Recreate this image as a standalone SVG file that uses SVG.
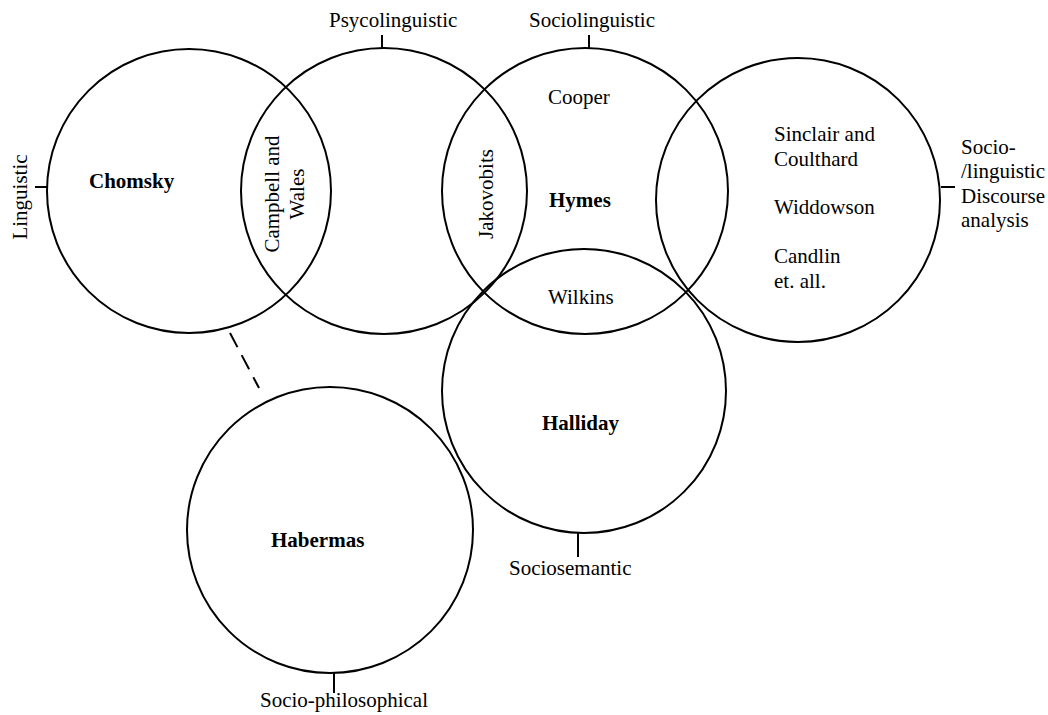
<svg xmlns="http://www.w3.org/2000/svg" width="1048" height="715" viewBox="0 0 1048 715">
  <style>
    .ring { fill: none; stroke: #000; stroke-width: 2; }
    .tick { stroke: #000; stroke-width: 2; fill: none; }
    .dash { stroke: #000; stroke-width: 2; stroke-dasharray: 16 9; fill: none; }
    text { font-family: "Liberation Serif", "Times New Roman", serif; font-size: 21px; fill: #000; }
    .b { font-weight: bold; }
  </style>
  <rect width="1048" height="715" fill="#fff"/>

  <g id="chomsky">
    <circle class="ring" cx="189" cy="191" r="142"/>
    <line class="tick" x1="35" y1="187" x2="47" y2="187"/>
    <text transform="translate(27,197) rotate(-90)" text-anchor="middle">Linguistic</text>
    <text class="b" x="89" y="188">Chomsky</text>
  </g>

  <g id="psycolinguistic">
    <circle class="ring" cx="384" cy="191" r="143"/>
    <line class="tick" x1="382" y1="35" x2="382" y2="49"/>
    <text x="329" y="27">Psycolinguistic</text>
    <text transform="translate(279,194) rotate(-90)" text-anchor="middle">Campbell and</text>
    <text transform="translate(304,194) rotate(-90)" text-anchor="middle">Wales</text>
  </g>

  <g id="sociolinguistic">
    <circle class="ring" cx="585" cy="191" r="143"/>
    <line class="tick" x1="589" y1="35" x2="589" y2="49"/>
    <text x="529" y="27">Sociolinguistic</text>
    <text x="548" y="104">Cooper</text>
    <text class="b" x="549" y="207">Hymes</text>
    <text transform="translate(493,194) rotate(-90)" text-anchor="middle">Jakovobits</text>
    <text x="548" y="304">Wilkins</text>
  </g>

  <g id="discourse">
    <circle class="ring" cx="798" cy="200" r="142"/>
    <line class="tick" x1="941" y1="187" x2="955" y2="187"/>
    <text x="774" y="141">Sinclair and</text>
    <text x="774" y="166">Coulthard</text>
    <text x="774" y="214">Widdowson</text>
    <text x="774" y="263">Candlin</text>
    <text x="774" y="288">et. all.</text>
    <text x="961" y="154">Socio-</text>
    <text x="961" y="178">/linguistic</text>
    <text x="961" y="203">Discourse</text>
    <text x="961" y="227">analysis</text>
  </g>

  <g id="halliday">
    <circle class="ring" cx="584" cy="391" r="142"/>
    <line class="tick" x1="578" y1="533" x2="578" y2="557"/>
    <text class="b" x="542" y="430">Halliday</text>
    <text x="509" y="575">Sociosemantic</text>
  </g>

  <g id="habermas">
    <circle class="ring" cx="330" cy="530" r="143"/>
    <line class="tick" x1="334" y1="673" x2="334" y2="693"/>
    <text class="b" x="271" y="547">Habermas</text>
    <text x="260" y="707">Socio-philosophical</text>
  </g>

  <g id="connectors">
    <line class="dash" x1="230" y1="333" x2="259" y2="388"/>
  </g>
</svg>
